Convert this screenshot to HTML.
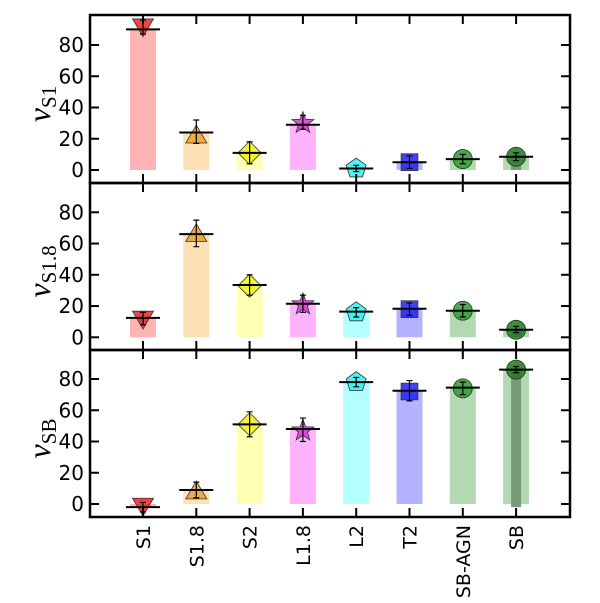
<!DOCTYPE html>
<html><head><meta charset="utf-8"><style>
html,body{margin:0;padding:0;background:#fff;}
svg{display:block;font-family:"DejaVu Sans","Liberation Sans",sans-serif;}
</style></head><body>
<svg id="chart" width="600" height="603" viewBox="0 0 600 603" xmlns="http://www.w3.org/2000/svg"></svg>
<script>
const categories = ["S1","S1.8","S2","L1.8","L2","T2","SB-AGN","SB"];
const panelNames = ["S1","S1.8","SB"];
const barS1   = [90, 24, 11, 29, 1, 5, 7, 8.5];
const markS1  = [92, 22, 11, 30, 1, 5, 7, 8.5];
const loS1    = [87, 17, 4, 26, -1, 1, 4, 6];
const hiS1    = [96, 32, 18, 35, 3, 9, 10, 11];
const barS18  = [12.4, 66, 33.5, 21.5, 16.4, 18.3, 17, 4.8];
const markS18 = [12, 66, 33, 21, 16, 18, 17, 4.8];
const loS18   = [8, 58, 27, 16, 13, 14, 13, 3];
const hiS18   = [16, 75, 40, 27, 19, 22, 21, 7];
const barSB   = [-2, 9, 51, 48, 78, 72.5, 74.5, 86];
const markSB  = [-1, 8, 51, 47, 78, 72, 74, 86];
const loSB    = [-5, 4, 43, 40, 75, 66, 70, 84];
const hiSB    = [1, 14, 59, 55, 81, 79, 78, 88];
const innerSB = [3, 4, 86];
const yTicks  = [0, 20, 40, 60, 80];

const bars=[barS1,barS18,barSB], marks=[markS1,markS18,markSB], los=[loS1,loS18,loSB], his=[hiS1,hiS18,hiSB];
const innerBase=[0,0,-2];
const light=["#ffb3b3","#fde0b3","#ffffb3","#ffb3ff","#b3ffff","#b3b3ff","#b3d9b3","#b3d9b3"];
const dark=["#ee2222","#f0a030","#f0f020","#dd33dd","#33eeee","#2222ee","#339933","#227722"];
const shapes=["tdown","tup","diamond","star","pent","square","circle","circle"];
const svg=document.getElementById('chart');
const NS="http://www.w3.org/2000/svg";
const X0=90,X1=570,panelTop=[15,183,350],panelH=[168,167,167],zeroY=[170,337.3,504],k=1.5625;
function xs(i){return 143+i*53.3;}
function mk(tag,a,p){const e=document.createElementNS(NS,tag);for(const n in a)e.setAttribute(n,a[n]);(p||svg).appendChild(e);return e;}
function shapePath(s,cx,cy,r){
  if(s==="tdown")return `M${cx-r},${cy-r*0.7} L${cx+r},${cy-r*0.7} L${cx},${cy+r} Z`;
  if(s==="tup")return `M${cx-r},${cy+r*0.7} L${cx+r},${cy+r*0.7} L${cx},${cy-r} Z`;
  if(s==="diamond")return `M${cx},${cy-r*1.1} L${cx+r*1.1},${cy} L${cx},${cy+r*1.1} L${cx-r*1.1},${cy} Z`;
  if(s==="square")return `M${cx-r*0.8},${cy-r*0.8} h${r*1.6} v${r*1.6} h${-r*1.6} Z`;
  if(s==="pent"){let d="";for(let j=0;j<5;j++){const a=-Math.PI/2+j*2*Math.PI/5;d+=(j?"L":"M")+(cx+r*Math.cos(a))+","+(cy+r*Math.sin(a));}return d+"Z";}
  if(s==="star"){let d="";for(let j=0;j<10;j++){const rr=j%2?r*0.45:r*1.1;const a=-Math.PI/2+j*Math.PI/5;d+=(j?"L":"M")+(cx+rr*Math.cos(a))+","+(cy+rr*Math.sin(a));}return d+"Z";}
  return "";
}
for(let p=0;p<3;p++){
  const g=mk('g',{});
  
  
  const y=v=>zeroY[p]-v*k;
  for(let i=0;i<categories.length;i++){
    const v=bars[p][i];
    const b=mk('rect',{x:xs(i)-13,y:Math.min(y(v),y(0)),width:26,height:Math.abs(y(v)-y(0)),fill:light[i]},g);
    
    
    if(i===7){
      const ib=mk('rect',{x:xs(i)-5,y:y(innerSB[p]),width:10,height:Math.max(0,y(innerBase[p])-y(innerSB[p])),fill:"#779977"},g);
      
      
    }
    const cx=xs(i),cy=y(marks[p][i]);
    let m;
    if(shapes[i]==="circle") m=mk('circle',{cx:cx,cy:cy,r:9.5,fill:dark[i],'fill-opacity':0.85,stroke:"#114411",'stroke-width':0.8},g);
    else m=mk('path',{d:shapePath(shapes[i],cx,cy,10.5),fill:dark[i],'fill-opacity':0.85,stroke:"#333",'stroke-width':0.8},g);
    
    
    const e=mk('path',{d:`M${cx},${y(los[p][i])}V${y(his[p][i])}M${cx-3},${y(los[p][i])}h6M${cx-3},${y(his[p][i])}h6`,stroke:"#000",'stroke-width':1.2,fill:"none"},g);
    
    
    const l=mk('line',{x1:cx-17,x2:cx+17,y1:y(v),y2:y(v),stroke:"#000",'stroke-width':2},g);
    
    
    mk('line',{x1:cx,x2:cx,y1:panelTop[p],y2:panelTop[p]+9,stroke:"#000",'stroke-width':2},g);
    mk('line',{x1:cx,x2:cx,y1:panelTop[p]+panelH[p]-9,y2:panelTop[p]+panelH[p],stroke:"#000",'stroke-width':2},g);
  }
  yTicks.forEach(t=>{
    mk('line',{x1:X0,x2:X0+9,y1:y(t),y2:y(t),stroke:"#000",'stroke-width':2},g);
    mk('line',{x1:X1-9,x2:X1,y1:y(t),y2:y(t),stroke:"#000",'stroke-width':2},g);
    const tl=mk('text',{x:X0-6,y:y(t)+7,'text-anchor':'end','font-size':20},g);
    tl.textContent=t;
    
    
  });
  const fr=mk('rect',{x:X0,y:panelTop[p],width:X1-X0,height:panelH[p],fill:"none",stroke:"#000",'stroke-width':2.5},g);
  
  
  const cyL=panelTop[p]+panelH[p]/2;
  const yl=mk('text',{transform:`translate(50,${cyL+5}) rotate(-90)`,'text-anchor':'middle','font-size':32,'font-family':'"Liberation Serif",serif'},g);
  
  
  const nu=mk('tspan',{'font-style':'italic'},yl);nu.textContent="ν";
  const sub=mk('tspan',{'font-size':21,dy:6},yl);sub.textContent=panelNames[p];
}
categories.forEach((c,i)=>{
  const t=mk('text',{transform:`translate(${xs(i)+7},525) rotate(-90)`,'text-anchor':'end','font-size':19});
  t.textContent=c;
  
  
});
</script>
</body></html>
